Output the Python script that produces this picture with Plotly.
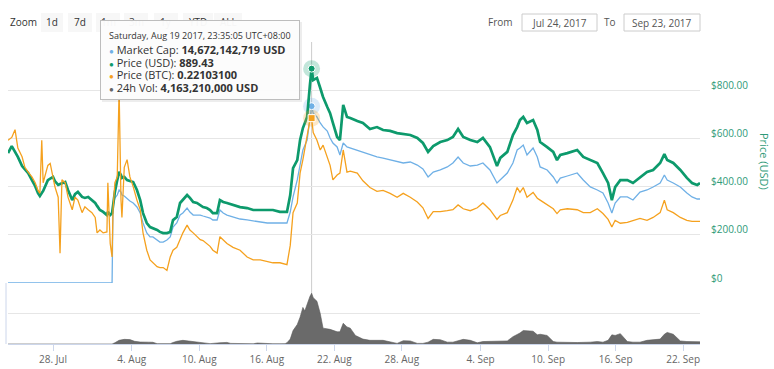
import pandas as pd
import plotly.graph_objects as go

# ---------------- data ----------------
times = [
    "07-24 00:00","07-24 08:00","07-24 15:00","07-24 21:00","07-25 06:00","07-25 12:00","07-25 19:00","07-26 03:00","07-26 10:00","07-26 16:00",
    "07-26 20:00","07-27 00:00","07-27 03:00","07-27 13:00","07-27 18:00","07-28 00:00","07-28 04:00","07-28 11:00","07-28 15:00","07-28 19:00",
    "07-29 02:00","07-29 08:00","07-29 17:00","07-29 23:00","07-30 05:00","07-30 14:00","07-30 20:00","07-31 03:00","07-31 11:00","07-31 18:00",
    "07-31 22:00","08-01 04:00","08-01 11:00","08-01 19:00","08-01 21:00","08-02 02:00","08-02 06:00","08-02 08:00","08-02 12:00","08-02 17:00",
    "08-02 21:00","08-03 01:00","08-03 03:00","08-03 08:00","08-03 14:00","08-03 20:00","08-04 03:00","08-04 11:00","08-04 18:00","08-05 00:00",
    "08-05 08:00","08-05 15:00","08-05 21:00","08-06 06:00","08-06 12:00","08-06 19:00","08-07 03:00","08-07 10:00","08-07 16:00","08-08 00:00",
    "08-08 07:00","08-08 13:00","08-08 22:00","08-09 04:00","08-09 11:00","08-09 19:00","08-10 02:00","08-10 08:00","08-10 16:00","08-10 23:00",
    "08-11 05:00","08-11 14:00","08-11 20:00","08-12 03:00","08-12 11:00","08-13 00:00","08-13 15:00","08-14 06:00","08-14 19:00","08-15 10:00",
    "08-16 01:00","08-16 13:00","08-17 04:00","08-17 19:00","08-18 02:00","08-18 08:00","08-18 17:00","08-18 23:00","08-19 05:00","08-19 14:00",
    "08-19 20:00","08-19 23:35","08-20 03:00","08-20 11:00","08-20 18:00","08-21 00:00","08-21 09:00","08-21 15:00","08-21 21:00","08-22 06:00",
    "08-22 12:00","08-22 19:00","08-23 03:00","08-23 10:00","08-24 01:00","08-24 13:00","08-25 04:00","08-25 19:00","08-26 08:00","08-26 23:00",
    "08-27 14:00","08-28 03:00","08-28 18:00","08-29 09:00","08-29 21:00","08-30 08:00","08-30 19:00","08-31 10:00","09-01 01:00","09-01 13:00",
    "09-02 00:00","09-02 11:00","09-03 02:00","09-03 17:00","09-04 05:00","09-04 20:00","09-05 11:00","09-05 18:00","09-06 09:00","09-06 21:00",
    "09-07 06:00","09-07 12:00","09-07 19:00","09-08 03:00","09-08 16:00","09-09 01:00","09-09 07:00","09-09 22:00","09-10 11:00","09-10 19:00",
    "09-11 02:00","09-11 17:00","09-12 14:00","09-13 03:00","09-13 18:00","09-14 09:00","09-14 21:00","09-15 08:00","09-15 16:00","09-15 23:00",
    "09-16 10:00","09-17 01:00","09-17 13:00","09-18 04:00","09-18 19:00","09-19 08:00","09-19 23:00","09-20 08:00","09-20 14:00","09-21 03:00",
    "09-21 18:00","09-22 08:00","09-22 19:00","09-23 06:00","09-23 12:00",
]

price_usd = [
    539,568,544,523,485,473,456,427,402,373,
    361,373,382,427,432,440,423,407,411,415,
    419,386,344,369,378,357,353,357,344,332,
    320,303,295,282,295,282,290,324,378,427,
    461,448,436,440,427,423,419,386,344,290,
    249,232,228,220,212,207,207,212,261,274,
    332,344,365,353,336,332,324,315,311,303,
    290,290,344,336,332,324,315,311,303,303,
    303,303,295,295,365,477,510,593,643,689,
    822,889.43,842,851,809,772,730,705,664,606,
    593,739,689,685,672,664,639,647,635,631,
    622,618,614,602,581,544,568,585,593,606,
    639,606,593,585,602,564,485,519,544,614,
    647,676,689,664,676,635,585,564,544,510,
    531,539,552,523,510,498,456,415,344,398,
    427,427,415,440,461,469,498,535,510,498,
    469,436,415,407,415,
]

market_cap_bn = [
    0,0,0,0,0,0,0,0,0,0,
    0,0,0,0,0,0,0,0,0,0,
    0,0,0,0,0,0,0,0,0,0,
    0,0,0,0,0,0,0,6.47,7.05,7.30,
    7.72,7.55,7.30,7.22,6.97,6.80,6.64,6.31,5.81,4.98,
    4.15,3.82,3.82,3.57,3.40,3.40,3.57,3.82,4.65,4.98,
    5.64,5.81,6.22,5.89,5.64,5.64,5.64,5.56,5.48,5.39,
    5.23,5.23,6.06,5.81,5.64,5.48,5.31,5.23,5.15,5.06,
    4.98,4.98,4.98,4.98,5.89,7.14,8.55,9.96,11.04,11.87,
    13.69,14.672142719,14.10,13.78,13.28,12.95,12.61,12.03,11.62,11.29,
    10.62,11.62,11.29,11.20,10.96,10.79,10.62,10.46,10.37,10.21,
    10.04,9.96,10.04,9.79,9.46,8.80,9.21,9.38,9.63,9.96,
    10.46,9.96,9.71,9.79,9.96,9.38,8.30,8.55,9.13,9.96,
    11.04,11.20,11.45,10.62,11.20,10.46,9.63,9.38,8.80,8.30,
    8.71,8.88,9.13,8.55,7.97,7.72,7.47,6.64,5.81,6.64,
    7.14,7.14,6.89,7.55,7.72,7.97,8.30,8.96,8.55,8.30,
    7.97,7.47,7.14,6.97,6.97,
]

price_btc = [
    0.198,0.201,0.209,0.190,0.181,0.170,0.165,0.160,0.154,0.146,
    0.143,0.198,0.154,0.172,0.174,0.160,0.150,0.139,0.081,0.157,
    0.154,0.139,0.126,0.139,0.136,0.123,0.129,0.126,0.123,0.118,
    0.102,0.105,0.102,0.103,0.154,0.091,0.077,0.126,0.154,0.160,
    0.250,0.136,0.118,0.170,0.178,0.160,0.150,0.136,0.126,0.102,
    0.084,0.074,0.071,0.067,0.066,0.066,0.063,0.077,0.084,0.087,
    0.095,0.102,0.110,0.105,0.102,0.098,0.095,0.094,0.091,0.088,
    0.084,0.081,0.098,0.095,0.091,0.087,0.084,0.077,0.074,0.074,
    0.072,0.071,0.071,0.069,0.089,0.123,0.133,0.164,0.178,0.204,
    0.219,0.221031,0.206,0.198,0.188,0.193,0.180,0.172,0.157,0.162,
    0.164,0.188,0.165,0.166,0.164,0.156,0.149,0.145,0.146,0.143,
    0.139,0.143,0.139,0.134,0.128,0.117,0.124,0.124,0.125,0.126,
    0.131,0.127,0.125,0.128,0.133,0.126,0.116,0.120,0.123,0.136,
    0.149,0.144,0.149,0.139,0.144,0.138,0.136,0.131,0.127,0.122,
    0.126,0.127,0.126,0.123,0.123,0.127,0.122,0.116,0.108,0.115,
    0.112,0.113,0.115,0.117,0.115,0.118,0.123,0.136,0.126,0.123,
    0.118,0.115,0.114,0.114,0.114,
]

vol_times = [
    "07-24 00:00","08-02 06:00","08-02 12:00","08-02 21:00","08-03 08:00","08-03 20:00","08-04 06:00","08-04 18:00","08-05 12:00","08-05 21:00",
    "08-06 06:00","08-06 23:00","08-07 10:00","08-07 16:00","08-08 00:00","08-08 13:00","08-09 04:00","08-09 19:00","08-10 08:00","08-10 23:00",
    "08-11 20:00","08-12 03:00","08-12 11:00","08-12 19:00","08-13 15:00","08-14 06:00","08-14 19:00","08-15 04:00","08-15 12:00","08-15 20:00",
    "08-16 13:00","08-17 04:00","08-17 15:00","08-17 19:00","08-18 02:00","08-18 08:00","08-18 17:00","08-18 23:00","08-19 05:00","08-19 09:00",
    "08-19 14:00","08-19 20:00","08-19 23:35","08-20 03:00","08-20 11:00","08-20 18:00","08-21 00:00","08-21 15:00","08-22 06:00","08-22 12:00",
    "08-22 19:00","08-23 03:00","08-23 10:00","08-23 21:00","08-24 13:00","08-25 04:00","08-26 08:00","08-26 23:00","08-27 14:00","08-28 03:00",
    "08-28 18:00","08-29 09:00","08-29 21:00","08-30 08:00","08-30 19:00","08-31 10:00","09-01 01:00","09-01 13:00","09-02 00:00","09-02 11:00",
    "09-03 02:00","09-03 17:00","09-04 05:00","09-04 20:00","09-05 11:00","09-05 18:00","09-06 09:00","09-06 21:00","09-07 06:00","09-07 12:00",
    "09-07 19:00","09-08 03:00","09-08 16:00","09-09 01:00","09-09 07:00","09-09 22:00","09-10 11:00","09-10 19:00","09-11 17:00","09-12 14:00",
    "09-13 18:00","09-14 09:00","09-14 21:00","09-15 08:00","09-15 16:00","09-15 23:00","09-16 10:00","09-17 01:00","09-17 13:00","09-18 04:00",
    "09-18 19:00","09-19 08:00","09-19 23:00","09-20 08:00","09-20 14:00","09-21 03:00","09-21 18:00","09-22 08:00","09-22 19:00","09-23 12:00",
]

volume_bn = [
    0,0,0.10,0.30,0.38,0.36,0.22,0.16,0.15,0.14,
    0.03,0.02,0.03,0.12,0.22,0.30,0.22,0.12,0.08,0.03,
    0.10,0.14,0.13,0.05,0.02,0.02,0.02,0.08,0.06,0.02,
    0.02,0.02,0.03,0.10,0.40,1.10,1.60,2.20,3.00,2.70,
    3.30,3.90,4.16321,3.80,3.50,2.50,1.30,1.20,1.00,1.00,
    1.70,1.40,1.30,0.70,0.40,0.30,0.30,0.20,0.05,0.27,
    0.25,0.05,0.05,0.15,0.38,0.35,0.15,0.15,0.25,0.38,
    0.30,0.10,0.20,0.22,0.22,0.25,0.25,0.60,0.75,0.90,
    1.10,1.10,1.05,0.75,0.80,0.70,0.20,0.15,0.12,0.12,
    0.15,0.20,0.15,0.30,0.75,0.70,0.85,0.20,0.15,0.15,
    0.30,0.35,0.40,0.80,0.95,0.80,0.25,0.20,0.20,0.18,
]

x_ticks = ["07-28","08-04","08-10","08-16","08-22","08-28","09-04","09-10","09-16","09-22"]
usd_ticks = [0, 200, 400, 600, 800, 1000]
usd_tick_text = ["$0", "$200.00", "$400.00", "$600.00", "$800.00", ""]

hover_label = "08-19 23:35"
tooltip_date = "Saturday, Aug 19 2017, 23:35:05 UTC+08:00"
tooltip_rows = [
    ("Market Cap", "14,672,142,719 USD"),
    ("Price (USD)", "889.43"),
    ("Price (BTC)", "0.22103100"),
    ("24h Vol", "4,163,210,000 USD"),
]
range_buttons = ["1d", "7d", "1m", "3m", "1y", "YTD", "ALL"]

# ---------------- styling ----------------
BLUE = "#6fb0e6"
GREEN = "#0d9a6c"
ORANGE = "#f5a11e"
FONT = "Open Sans"

W, H = 774, 369
ML, MR, MT, MB = 8, 74, 42, 25
PW, PH = W - ML - MR, H - MT - MB


def pxx(x):
    return (x - ML) / PW


def pxy(y):
    return (H - MB - y) / PH


def to_dt(s):
    return pd.to_datetime("2017-" + s)


t = [to_dt(s) for s in times]
vt = [to_dt(s) for s in vol_times]
hi = times.index(hover_label)
ht = t[hi]

split = pxy(283)

fig = go.Figure()
fig.add_trace(go.Scatter(x=t, y=market_cap_bn, yaxis="y", mode="lines",
                         line=dict(color=BLUE, width=1.3), name="Market Cap"))
fig.add_trace(go.Scatter(x=t, y=price_usd, yaxis="y2", mode="lines",
                         line=dict(color=GREEN, width=2.7), name="Price (USD)"))
fig.add_trace(go.Scatter(x=t, y=price_btc, yaxis="y3", mode="lines",
                         line=dict(color=ORANGE, width=1.3), name="Price (BTC)"))
fig.add_trace(go.Scatter(x=vt, y=volume_bn, yaxis="y4", mode="lines", fill="tozeroy",
                         line=dict(color="#5a5a5a", width=0.6), fillcolor="#6a6a6a",
                         name="24h Vol"))

# hover markers (halo + point)
for ax, val, col, sym in [("y", market_cap_bn[hi], BLUE, "circle"),
                          ("y2", price_usd[hi], GREEN, "circle"),
                          ("y3", price_btc[hi], ORANGE, "square")]:
    fig.add_trace(go.Scatter(x=[ht], y=[val], yaxis=ax, mode="markers",
                             marker=dict(size=17, color=col, opacity=0.25, symbol="circle")))
    fig.add_trace(go.Scatter(x=[ht], y=[val], yaxis=ax, mode="markers",
                             marker=dict(size=7, color=col, symbol=sym,
                                         line=dict(color="white", width=1))))

grid = "#e6e6e6"
fig.update_layout(
    width=W, height=H, margin=dict(l=ML, r=MR, t=MT, b=MB, autoexpand=False),
    paper_bgcolor="white", plot_bgcolor="white", showlegend=False,
    font=dict(family=FONT, color="#333"),
    xaxis=dict(type="date", anchor="y4", domain=[0, 1],
               range=[to_dt("07-24 00:00"), to_dt("09-23 12:00")],
               tickvals=[to_dt(s) for s in x_ticks], tickformat="%-d. %b",
               showgrid=False, showline=True, linecolor="#ccd6eb", linewidth=1,
               ticks="outside", ticklen=6, tickcolor="#ccd6eb",
               tickfont=dict(size=10, color="#666", family=FONT), zeroline=False),
    yaxis=dict(domain=[split, 1], range=[0, 20], tickvals=[0, 4, 8, 12, 16, 20],
               showticklabels=False, gridcolor=grid, gridwidth=1, zeroline=False,
               ticks=""),
    yaxis2=dict(overlaying="y", side="right", anchor="x", range=[0, 1000],
                tickvals=usd_ticks, ticktext=usd_tick_text, showgrid=False,
                zeroline=False, ticks="", ticklabelstandoff=10, ticklabelshift=-5,
                tickfont=dict(size=10, color="#2f9a78", family=FONT)),
    yaxis3=dict(overlaying="y", range=[0.05, 0.30], visible=False),
    yaxis4=dict(domain=[0, split], range=[0, 5], tickvals=[0, 2.5, 5],
                showticklabels=False, gridcolor=grid, zeroline=False, ticks=""),
)

shapes = []
shapes.append(dict(type="line", xref="x", yref="paper", x0=ht, x1=ht, y0=0, y1=1,
                   line=dict(color="#cccccc", width=1), layer="below"))
shapes.append(dict(type="line", xref="paper", yref="paper", x0=pxx(6), x1=pxx(6),
                   y0=0, y1=split, line=dict(color="#ccd6eb", width=1)))
btn_centers = [52, 80, 108, 136, 166, 198, 228]
btn_widths = [22, 24, 24, 24, 24, 30, 28]
for cx, bw in zip(btn_centers, btn_widths):
    shapes.append(dict(type="rect", xref="paper", yref="paper",
                       x0=pxx(cx - bw / 2), x1=pxx(cx + bw / 2), y0=pxy(32), y1=pxy(13),
                       fillcolor="#f7f7f7", line=dict(width=0), layer="above"))
for x0, x1 in [(522, 597), (624, 700)]:
    shapes.append(dict(type="rect", xref="paper", yref="paper",
                       x0=pxx(x0), x1=pxx(x1), y0=pxy(31), y1=pxy(14),
                       fillcolor="white", line=dict(color="#cccccc", width=1), layer="above"))
fig.update_layout(shapes=shapes)

ann = []
ann.append(dict(xref="paper", yref="paper", x=pxx(8), y=pxy(22), xanchor="left",
                yanchor="middle", text="Zoom", showarrow=False,
                font=dict(size=10, color="#333", family=FONT)))
for lab, cx in zip(range_buttons, btn_centers):
    ann.append(dict(xref="paper", yref="paper", x=pxx(cx), y=pxy(22), xanchor="center",
                    yanchor="middle", text=lab, showarrow=False,
                    font=dict(size=10, color="#333", family=FONT)))
ann.append(dict(xref="paper", yref="paper", x=pxx(515), y=pxy(22), xanchor="right",
                yanchor="middle", text="From", showarrow=False,
                font=dict(size=10, color="#555", family=FONT)))
ann.append(dict(xref="paper", yref="paper", x=pxx(559.5), y=pxy(22.5), xanchor="center",
                yanchor="middle", text="Jul 24, 2017", showarrow=False,
                font=dict(size=10, color="#555", family=FONT)))
ann.append(dict(xref="paper", yref="paper", x=pxx(618), y=pxy(22), xanchor="right",
                yanchor="middle", text="To", showarrow=False,
                font=dict(size=10, color="#555", family=FONT)))
ann.append(dict(xref="paper", yref="paper", x=pxx(662), y=pxy(22.5), xanchor="center",
                yanchor="middle", text="Sep 23, 2017", showarrow=False,
                font=dict(size=10, color="#555", family=FONT)))
ann.append(dict(xref="paper", yref="paper", x=pxx(765), y=pxy(162), xanchor="center",
                yanchor="middle", text="Price (USD)", textangle=90, showarrow=False,
                font=dict(size=11, color="#2f9a78", family=FONT)))
# tooltip shadow + box
ann.append(dict(xref="paper", yref="paper", x=pxx(102), y=pxy(22), xanchor="left",
                yanchor="top", text=" ", showarrow=False, width=200, height=80,
                bgcolor="rgba(0,0,0,0.07)", borderwidth=0, borderpad=0))
ann.append(dict(xref="paper", yref="paper", x=pxx(100), y=pxy(20), xanchor="left",
                yanchor="top", text=" ", showarrow=False, width=198, height=78,
                bgcolor="rgba(252,252,252,0.97)", bordercolor="#bdbdbd",
                borderwidth=1, borderpad=0))
ann.append(dict(xref="paper", yref="paper", x=pxx(107), y=pxy(36), xanchor="left",
                yanchor="middle", text=tooltip_date, showarrow=False,
                font=dict(size=9, color="#333", family=FONT)))
dot_cols = [BLUE, GREEN, ORANGE, "#666666"]
row_y = [49, 62, 74.5, 87]
for (name, val), col, yy in zip(tooltip_rows, dot_cols, row_y):
    ann.append(dict(xref="paper", yref="paper", x=pxx(107), y=pxy(yy), xanchor="left",
                    yanchor="middle", showarrow=False,
                    text=f"<span style='color:{col};font-size:8px'>●</span> {name}: <b>{val}</b>",
                    font=dict(size=11, color="#333", family=FONT)))
fig.update_layout(annotations=ann)

fig.write_html("out.html", config={"displayModeBar": False},
               post_script="document.body.style.margin='0';")
